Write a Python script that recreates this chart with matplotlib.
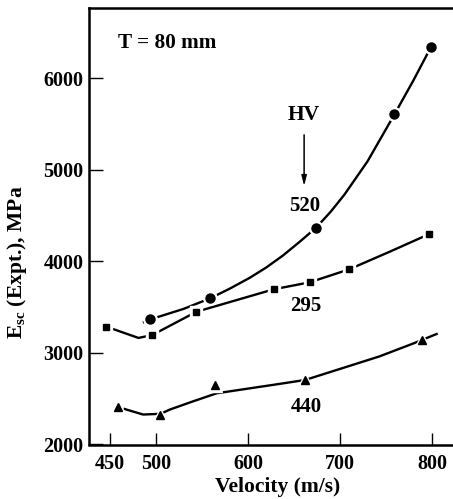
import matplotlib.pyplot as plt

# measured points (velocity m/s, E_sc MPa)
hv520_v = [494, 559, 674, 759, 799]
hv520_E = [3366, 3596, 4366, 5604, 6341]
hv295_v = [446, 496, 544, 628, 667, 710, 797]
hv295_E = [3286, 3195, 3449, 3694, 3770, 3912, 4297]
hv440_v = [459, 504, 564, 662, 789]
hv440_E = [2409, 2324, 2644, 2704, 3144]

# hand-drawn trend curves
curve520_v = [487, 494, 530, 559, 580, 602, 620, 638, 656, 674, 690, 705, 730, 759, 780, 799]
curve520_E = [3335, 3366, 3480, 3596, 3700, 3820, 3933, 4063, 4211, 4366, 4542, 4730, 5092, 5600, 5978, 6341]
curve295_v = [446, 481, 496, 544, 628, 667, 710, 754, 797]
curve295_E = [3286, 3163, 3195, 3449, 3694, 3770, 3912, 4104, 4297]
curve440_v = [466, 486, 505, 515, 540, 566, 600, 630, 662, 700, 743, 780, 805]
curve440_E = [2387, 2327, 2335, 2381, 2470, 2559, 2610, 2655, 2704, 2825, 2962, 3104, 3206]

xticks = [450, 500, 600, 700, 800]
yticks = [2000, 3000, 4000, 5000, 6000]

plt.rcParams['font.family'] = 'Liberation Serif'
plt.rcParams['font.weight'] = 'bold'
plt.rcParams['mathtext.fontset'] = 'custom'
plt.rcParams['mathtext.rm'] = 'Liberation Serif:bold'
plt.rcParams['mathtext.it'] = 'Liberation Serif:bold'
plt.rcParams['mathtext.bf'] = 'Liberation Serif:bold'
plt.rcParams['mathtext.default'] = 'rm'

fig = plt.figure(figsize=(4.53, 4.99), dpi=100)
ax = fig.add_axes([89 / 453, 1 - 444.5 / 499, 1 - 89 / 453, (444.5 - 8) / 499])

lw = 1.7
series = [
    (curve520_v, curve520_E, hv520_v, hv520_E, 'o', 6.5),
    (curve295_v, curve295_E, hv295_v, hv295_E, 's', 5.0),
    (curve440_v, curve440_E, hv440_v, hv440_E, '^', 6.3),
]
for cv, ce, mv, me, mk, ms in series:
    ax.plot(cv, ce, '-', color='black', lw=lw, zorder=2, solid_joinstyle='round')
    # white halo leaves the small gap around each marker
    ax.plot(mv, me, mk, color='white', ms=ms + 3.2, ls='none', zorder=3)
    ax.plot(mv, me, mk, color='black', ms=ms, ls='none', zorder=4)

ax.set_xlim(427.2, 822.8)
ax.set_ylim(2000, 6764)
ax.set_xticks(xticks)
ax.set_yticks(yticks)
ax.tick_params(axis='x', direction='in', length=9, width=1, pad=7, labelsize=14.5)
ax.tick_params(axis='y', direction='in', length=10, width=1, pad=4, labelsize=14.5)
for s in ['left', 'bottom', 'top']:
    ax.spines[s].set_linewidth(1.8)
ax.spines['right'].set_visible(False)

ax.text(458.7, 6382, 'T = 80 mm', fontsize=15.3, ha='left', va='center')
ax.text(661, 5596, 'HV', fontsize=15.5, ha='center', va='center')
ax.annotate('', xy=(661, 4790), xytext=(661, 5410),
            arrowprops=dict(arrowstyle='-|>,head_length=0.6,head_width=0.15',
                            color='black', lw=1.1))
ax.text(662, 4603, '520', fontsize=15, ha='center', va='center')
ax.text(663, 3512, '295', fontsize=15, ha='center', va='center')
ax.text(663, 2409, '440', fontsize=15, ha='center', va='center')

fig.text(17 / 453, 1 - 262 / 499, 'E$_{sc}$ (Expt.), MPa', rotation=90,
         fontsize=15.5, ha='center', va='center')
fig.text(278 / 453, 1 - 487 / 499, 'Velocity (m/s)', fontsize=15.5,
         ha='center', va='center')

fig.savefig('out.png', dpi=100)
